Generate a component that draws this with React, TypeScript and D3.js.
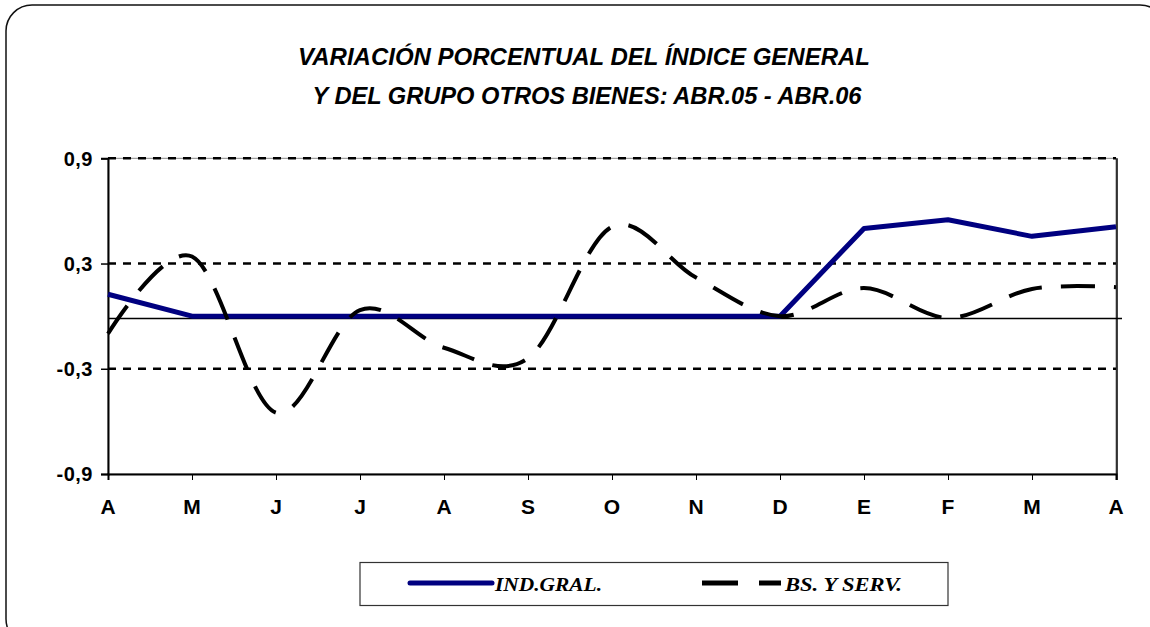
import { useEffect, useRef } from "react";
import * as d3 from "d3";

// month labels, abr.05 - abr.06
const months = ["A", "M", "J", "J", "A", "S", "O", "N", "D", "E", "F", "M", "A"];
const indGral = [0.125, 0.0, 0.0, 0.0, 0.0, 0.0, 0.0, 0.0, 0.0, 0.5, 0.55, 0.455, 0.51];
const bsServ = [-0.1, 0.34, -0.55, 0.035, -0.18, -0.24, 0.51, 0.22, 0.0, 0.16, -0.01, 0.155, 0.165];
const yTicks = [0.9, 0.3, -0.3, -0.9];
const yTickLabels = ["0,9", "0,3", "-0,3", "-0,9"];
const axisCross = -0.014;
const titleLines = [
  "VARIACIÓN PORCENTUAL DEL ÍNDICE GENERAL",
  "Y DEL GRUPO OTROS BIENES: ABR.05 - ABR.06",
];
const legendNames = ["IND.GRAL.", "BS. Y SERV."];

const W = 1150;
const H = 627;
const SANS = "'Liberation Sans', Arial, sans-serif";

const App = () => {
  const svgRef = useRef<SVGSVGElement>(null);

  useEffect(() => {
    const svg = d3.select(svgRef.current);
    svg.selectAll("*").remove();

    const margin = { left: 108, right: 34, top: 158.3, bottom: 153 };
    const x = d3
      .scalePoint<number>()
      .domain(months.map((_, i) => i))
      .range([margin.left, W - margin.right]);
    const y = d3
      .scaleLinear()
      .domain([-0.9, 0.9])
      .range([H - margin.bottom, margin.top]);

    // outer rounded frame
    svg
      .append("rect")
      .attr("x", 6)
      .attr("y", 5)
      .attr("width", 1160)
      .attr("height", 640)
      .attr("rx", 26)
      .attr("fill", "white")
      .attr("stroke", "#111")
      .attr("stroke-width", 1.5);

    // title
    const title = svg
      .append("text")
      .attr("text-anchor", "middle")
      .style("font-family", SANS)
      .style("font-style", "italic")
      .style("font-weight", "bold")
      .style("font-size", "24px")
      .attr("fill", "#000");
    title
      .append("tspan")
      .attr("x", 584)
      .attr("y", 65)
      .attr("textLength", 572)
      .attr("lengthAdjust", "spacingAndGlyphs")
      .text(titleLines[0]);
    title
      .append("tspan")
      .attr("x", 587)
      .attr("y", 104)
      .attr("textLength", 549)
      .attr("lengthAdjust", "spacingAndGlyphs")
      .text(titleLines[1]);

    const x0 = x(0)!;
    const x1 = x(months.length - 1)!;

    // plot frame
    svg
      .append("rect")
      .attr("x", x0)
      .attr("y", y(0.9))
      .attr("width", x1 - x0)
      .attr("height", y(-0.9) - y(0.9))
      .attr("fill", "none")
      .attr("stroke", "#888")
      .attr("stroke-width", 1);

    // dotted gridlines
    svg
      .append("g")
      .selectAll("line")
      .data(yTicks.filter((d) => d !== -0.9))
      .enter()
      .append("line")
      .attr("x1", x0)
      .attr("x2", x1)
      .attr("y1", (d) => y(d))
      .attr("y2", (d) => y(d))
      .attr("stroke", "#000")
      .attr("stroke-width", 2.5)
      .attr("stroke-dasharray", "8,7");

    // right edge
    svg
      .append("line")
      .attr("x1", x1 + 1)
      .attr("x2", x1 + 1)
      .attr("y1", y(0.9))
      .attr("y2", y(-0.9) + 6)
      .attr("stroke", "#000")
      .attr("stroke-width", 1.5);

    // y axis
    const yAxis = svg
      .append("g")
      .attr("transform", `translate(${x0},0)`)
      .call(d3.axisLeft(y).tickValues(yTicks).tickSize(7).tickFormat(() => ""));
    yAxis.select(".domain").attr("stroke-width", 2);
    yAxis.selectAll(".tick line").attr("stroke-width", 1.5);

    svg
      .append("g")
      .selectAll("text")
      .data(yTicks)
      .enter()
      .append("text")
      .attr("x", x0 - 15)
      .attr("y", (d) => y(d))
      .attr("dy", "0.36em")
      .attr("text-anchor", "end")
      .style("font-family", SANS)
      .style("font-weight", "bold")
      .style("font-size", "20px")
      .style("letter-spacing", "0.5px")
      .attr("fill", "#000")
      .text((_, i) => yTickLabels[i]);

    // x axis
    const xAxis = svg
      .append("g")
      .attr("transform", `translate(0,${y(-0.9)})`)
      .call(d3.axisBottom(x).tickSize(6).tickFormat(() => ""));
    xAxis.select(".domain").attr("stroke-width", 2);
    xAxis.selectAll(".tick line").attr("stroke-width", 1);

    svg
      .append("g")
      .selectAll("text")
      .data(months)
      .enter()
      .append("text")
      .attr("x", (_, i) => x(i)!)
      .attr("y", 514)
      .attr("text-anchor", "middle")
      .style("font-family", SANS)
      .style("font-weight", "bold")
      .style("font-size", "21px")
      .attr("fill", "#000")
      .text((d) => d);

    // horizontal cross line near zero
    svg
      .append("line")
      .attr("x1", x0)
      .attr("x2", x1 + 6)
      .attr("y1", y(axisCross))
      .attr("y2", y(axisCross))
      .attr("stroke", "#000")
      .attr("stroke-width", 1.5);

    const blueLine = d3
      .line<number>()
      .x((_, i) => x(i)!)
      .y((d) => y(d));

    const dashLine = d3
      .line<number>()
      .x((_, i) => x(i)!)
      .y((d) => y(d))
      .curve(d3.curveCardinal);

    svg
      .append("path")
      .datum(indGral)
      .attr("fill", "none")
      .attr("stroke", "#000080")
      .attr("stroke-width", 5)
      .attr("stroke-linejoin", "round")
      .attr("d", blueLine);

    svg
      .append("path")
      .datum(bsServ)
      .attr("fill", "none")
      .attr("stroke", "#000")
      .attr("stroke-width", 4)
      .attr("stroke-dasharray", "34,19")
      .attr("d", dashLine);

    // legend
    const lg = svg.append("g");
    lg.append("rect")
      .attr("x", 360)
      .attr("y", 562.5)
      .attr("width", 588)
      .attr("height", 43)
      .attr("fill", "white")
      .attr("stroke", "#333")
      .attr("stroke-width", 1.2);

    lg.append("line")
      .attr("x1", 410)
      .attr("x2", 492)
      .attr("y1", 583)
      .attr("y2", 583)
      .attr("stroke", "#000080")
      .attr("stroke-width", 5)
      .attr("stroke-linecap", "round");

    lg.append("line")
      .attr("x1", 702)
      .attr("x2", 781)
      .attr("y1", 583)
      .attr("y2", 583)
      .attr("stroke", "#000")
      .attr("stroke-width", 5)
      .attr("stroke-dasharray", "36,21");

    const legendX = [495, 785];
    const legendW = [107, 117];
    lg.selectAll("text")
      .data(legendNames)
      .enter()
      .append("text")
      .attr("x", (_, i) => legendX[i])
      .attr("y", 591)
      .attr("textLength", (_, i) => legendW[i])
      .attr("lengthAdjust", "spacingAndGlyphs")
      .style("font-family", "'Liberation Serif', 'Times New Roman', serif")
      .style("font-style", "italic")
      .style("font-weight", "bold")
      .style("font-size", "19px")
      .attr("fill", "#000")
      .text((d) => d);
  }, []);

  return (
    <svg
      ref={svgRef}
      width={W}
      height={H}
      style={{ position: "absolute", left: 0, top: 0, display: "block", background: "white" }}
    ></svg>
  );
};

export default App;
